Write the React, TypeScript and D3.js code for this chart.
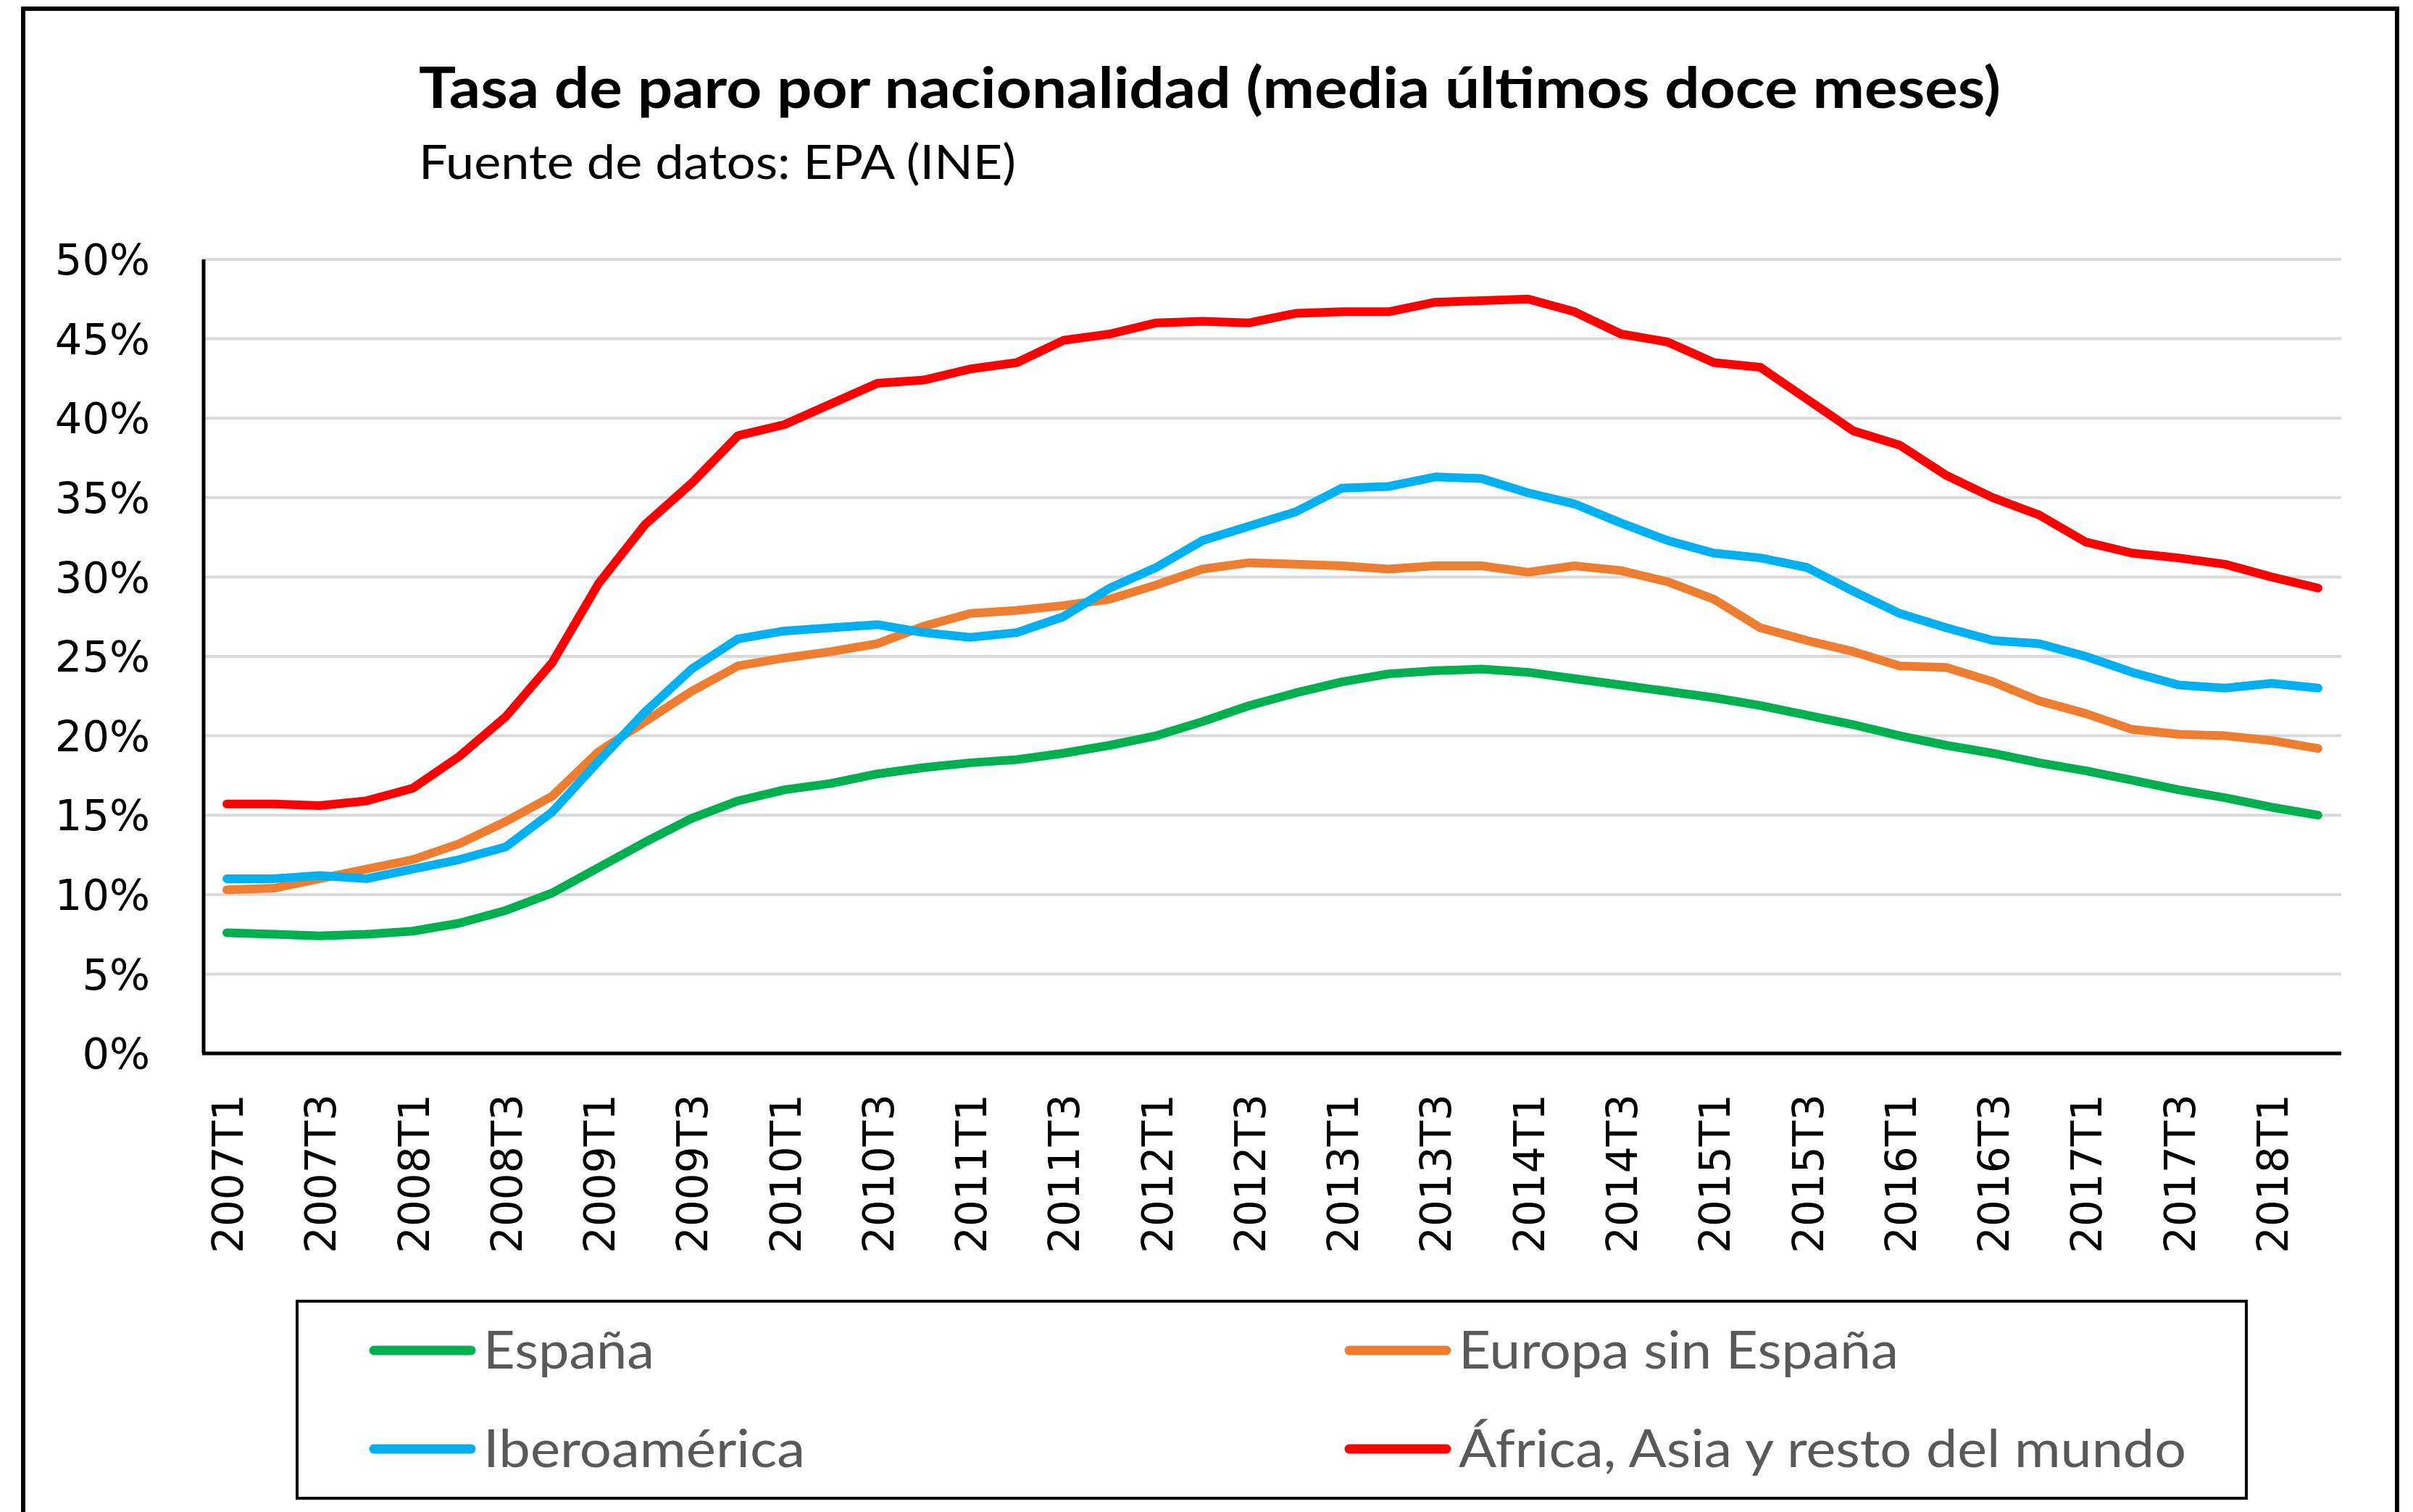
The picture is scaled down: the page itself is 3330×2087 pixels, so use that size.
import * as d3 from 'd3';

const quarters = [
  '2007T1', '2007T2', '2007T3', '2007T4', '2008T1', '2008T2', '2008T3', '2008T4',
  '2009T1', '2009T2', '2009T3', '2009T4', '2010T1', '2010T2', '2010T3', '2010T4',
  '2011T1', '2011T2', '2011T3', '2011T4', '2012T1', '2012T2', '2012T3', '2012T4',
  '2013T1', '2013T2', '2013T3', '2013T4', '2014T1', '2014T2', '2014T3', '2014T4',
  '2015T1', '2015T2', '2015T3', '2015T4', '2016T1', '2016T2', '2016T3', '2016T4',
  '2017T1', '2017T2', '2017T3', '2017T4', '2018T1', '2018T2'
];

// tasa de paro en %
const espana = [
  7.6, 7.5, 7.4, 7.5, 7.7, 8.2, 9.0, 10.1, 11.7, 13.3, 14.8, 15.9, 16.6, 17.0, 17.6, 18.0,
  18.3, 18.5, 18.9, 19.4, 20.0, 20.9, 21.9, 22.7, 23.4, 23.9, 24.1, 24.2, 24.0, 23.6, 23.2, 22.8,
  22.4, 21.9, 21.3, 20.7, 20.0, 19.4, 18.9, 18.3, 17.8, 17.2, 16.6, 16.1, 15.5, 15.0
];
const europa = [
  10.3, 10.4, 11.0, 11.6, 12.2, 13.2, 14.6, 16.2, 19.0, 20.9, 22.8, 24.4, 24.9, 25.3, 25.8, 26.9,
  27.7, 27.9, 28.2, 28.6, 29.5, 30.5, 30.9, 30.8, 30.7, 30.5, 30.7, 30.7, 30.3, 30.7, 30.4, 29.7,
  28.6, 26.8, 26.0, 25.3, 24.4, 24.3, 23.4, 22.2, 21.4, 20.4, 20.1, 20.0, 19.7, 19.2
];
const iberoamerica = [
  11.0, 11.0, 11.2, 11.0, 11.6, 12.2, 13.0, 15.2, 18.4, 21.5, 24.2, 26.1, 26.6, 26.8, 27.0, 26.5,
  26.2, 26.5, 27.5, 29.3, 30.6, 32.3, 33.2, 34.1, 35.6, 35.7, 36.3, 36.2, 35.3, 34.6, 33.4, 32.3,
  31.5, 31.2, 30.6, 29.1, 27.7, 26.8, 26.0, 25.8, 25.0, 24.0, 23.2, 23.0, 23.3, 23.0
];
const africaAsia = [
  15.7, 15.7, 15.6, 15.9, 16.7, 18.7, 21.2, 24.6, 29.6, 33.3, 35.9, 38.9, 39.6, 40.9, 42.2, 42.4,
  43.1, 43.5, 44.9, 45.3, 46.0, 46.1, 46.0, 46.6, 46.7, 46.7, 47.3, 47.4, 47.5, 46.7, 45.3, 44.8,
  43.5, 43.2, 41.2, 39.2, 38.3, 36.4, 35.0, 33.9, 32.2, 31.5, 31.2, 30.8, 30.0, 29.3
];

const yTicks = [0, 5, 10, 15, 20, 25, 30, 35, 40, 45, 50];

const series = [
  { name: 'España', values: espana, color: '#00B050' },
  { name: 'Europa sin España', values: europa, color: '#ED7D31' },
  { name: 'Iberoamérica', values: iberoamerica, color: '#00B0F0' },
  { name: 'África, Asia y resto del mundo', values: africaAsia, color: '#FF0000' }
];

const W = 3330;
const H = 2087;
const plot = { left: 281, right: 3231, top: 358, bottom: 1454 };

const titleFont = 'Lato, "Open Sans", sans-serif';
const tickFont = '"DejaVu Sans", Verdana, sans-serif';

export default function App() {
  const x = d3.scaleBand<string>()
    .domain(quarters)
    .range([plot.left, plot.right])
    .padding(0);
  const cx = (q: string) => (x(q) ?? 0) + x.bandwidth() / 2;

  const y = d3.scaleLinear()
    .domain([0, 50])
    .range([plot.bottom, plot.top]);

  const line = d3.line<number>()
    .x((_, i) => cx(quarters[i]))
    .y(d => y(d));

  // legend layout: two columns, two rows
  const legendItems = [
    { s: series[0], col: 0, row: 0, width: 236 },
    { s: series[1], col: 1, row: 0, width: 607 },
    { s: series[2], col: 0, row: 1, width: 444 },
    { s: series[3], col: 1, row: 1, width: 1004 }
  ];
  const legendCols = [510, 1856];
  const legendRows = [1864, 2000];

  return (
    <div style={{ position: 'absolute', left: 0, top: 0 }}>
      <svg width={W} height={H} style={{ display: 'block', background: '#fff' }}>
        <rect x={32} y={12} width={3276} height={2200} fill="#fff" stroke="#000" strokeWidth={6} />

        <text x={578} y={149} fontFamily={titleFont} fontWeight={700} fontSize={78}
          textLength={2183} lengthAdjust="spacingAndGlyphs" fill="#000">
          Tasa de paro por nacionalidad (media últimos doce meses)
        </text>
        <text x={578} y={247} fontFamily={titleFont} fontSize={66}
          textLength={824} lengthAdjust="spacingAndGlyphs" fill="#000">
          Fuente de datos: EPA (INE)
        </text>

        {yTicks.map(t => (
          <g key={t}>
            {t > 0 && (
              <line x1={plot.left} x2={plot.right} y1={y(t)} y2={y(t)} stroke="#D9D9D9" strokeWidth={4} />
            )}
            <text x={207} y={y(t)} dy="0.36em" textAnchor="end" fontFamily={tickFont}
              fontSize={59} fill="#000">{t}%</text>
          </g>
        ))}

        <line x1={plot.left} x2={plot.left} y1={plot.top} y2={plot.bottom} stroke="#000" strokeWidth={5} />
        <line x1={plot.left - 2} x2={plot.right} y1={plot.bottom} y2={plot.bottom} stroke="#000" strokeWidth={5} />

        {quarters.map((q, i) => i % 2 === 0 && (
          <text key={q} transform={`translate(${cx(q) + 22},${plot.bottom + 56}) rotate(-90)`}
            textAnchor="end" fontFamily={tickFont} fontSize={58} fill="#000">{q}</text>
        ))}

        {series.map(s => (
          <path key={s.name} d={line(s.values) ?? ''} fill="none" stroke={s.color}
            strokeWidth={12} strokeLinejoin="round" strokeLinecap="round" />
        ))}

        <rect x={410} y={1796} width={2690} height={272} fill="#fff" stroke="#000" strokeWidth={4} />
        {legendItems.map(it => {
          const lx = legendCols[it.col];
          const ly = legendRows[it.row];
          return (
            <g key={it.s.name}>
              <line x1={lx + 6} x2={lx + 140} y1={ly} y2={ly} stroke={it.s.color}
                strokeWidth={13} strokeLinecap="round" />
              <text x={lx + 157} y={ly + 25} fontFamily={titleFont} fontSize={72}
                textLength={it.width} lengthAdjust="spacingAndGlyphs" fill="#595959">{it.s.name}</text>
            </g>
          );
        })}
      </svg>
    </div>
  );
}
